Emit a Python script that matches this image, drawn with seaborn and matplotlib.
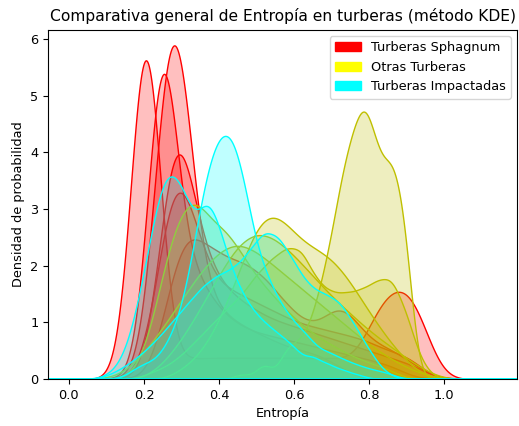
import numpy as np
import matplotlib
matplotlib.use("Agg")
import matplotlib.pyplot as plt
from matplotlib.patches import Patch
import seaborn as sns

# Entropy bin centres and relative frequencies for each peatland site

# --- Turberas Sphagnum ---
sph1_x = [0.205, 0.30, 0.34, 0.38, 0.42, 0.46, 0.50, 0.54, 0.58, 0.62, 0.66, 0.70, 0.74, 0.80, 0.84, 0.88, 0.92, 0.95]
sph1_w = [0.56, 0.015, 0.015, 0.015, 0.015, 0.015, 0.015, 0.015, 0.015, 0.015, 0.015, 0.015, 0.015, 0.04, 0.06, 0.07, 0.06, 0.025]

sph2_x = [0.25, 0.31, 0.35, 0.39, 0.43, 0.47, 0.51, 0.55, 0.59, 0.63, 0.67, 0.71, 0.75, 0.79, 0.83, 0.87]
sph2_w = [0.49, 0.09, 0.07, 0.05, 0.04, 0.035, 0.03, 0.03, 0.025, 0.025, 0.02, 0.02, 0.015, 0.015, 0.01, 0.01]

sph3_x = [0.25, 0.28, 0.31, 0.36, 0.40, 0.44, 0.48, 0.52, 0.56, 0.60, 0.64, 0.68, 0.72]
sph3_w = [0.23, 0.23, 0.23, 0.06, 0.05, 0.04, 0.035, 0.03, 0.025, 0.02, 0.02, 0.015, 0.01]

sph4_x = [0.26, 0.29, 0.33, 0.38, 0.43, 0.48, 0.53, 0.58, 0.63, 0.68, 0.73, 0.78, 0.83, 0.88, 0.93]
sph4_w = [0.12, 0.19, 0.13, 0.09, 0.07, 0.06, 0.05, 0.045, 0.04, 0.035, 0.03, 0.025, 0.02, 0.015, 0.01]

sph5_x = [0.24, 0.28, 0.32, 0.37, 0.43, 0.49, 0.55, 0.61, 0.67, 0.73, 0.79, 0.85, 0.91]
sph5_w = [0.06, 0.15, 0.12, 0.09, 0.08, 0.07, 0.06, 0.05, 0.045, 0.04, 0.035, 0.025, 0.02]

sph6_x = [0.27, 0.31, 0.35, 0.40, 0.46, 0.52, 0.58, 0.64, 0.70, 0.745, 0.80, 0.86, 0.92]
sph6_w = [0.045, 0.075, 0.065, 0.08, 0.08, 0.07, 0.05, 0.035, 0.04, 0.04, 0.025, 0.02, 0.01]

# --- Otras Turberas ---
otr1_x = [0.46, 0.52, 0.58, 0.61, 0.64, 0.67, 0.70, 0.73, 0.76, 0.79, 0.82, 0.85, 0.875, 0.90]
otr1_w = [0.004, 0.012, 0.02, 0.018, 0.027, 0.048, 0.075, 0.111, 0.132, 0.15, 0.12, 0.105, 0.09, 0.07]

otr2_x = [0.30, 0.34, 0.38, 0.42, 0.46, 0.50, 0.54, 0.58, 0.62, 0.66, 0.70, 0.74, 0.78, 0.82, 0.86, 0.90, 0.94]
otr2_w = [0.006, 0.014, 0.028, 0.05, 0.076, 0.104, 0.114, 0.106, 0.094, 0.088, 0.082, 0.07, 0.054, 0.038, 0.024, 0.012, 0.003]

otr3_x = [0.18, 0.22, 0.26, 0.30, 0.34, 0.38, 0.42, 0.46, 0.50, 0.54, 0.58, 0.62, 0.66, 0.70, 0.74, 0.78, 0.82, 0.86]
otr3_w = [0.004, 0.028, 0.072, 0.1, 0.108, 0.092, 0.088, 0.074, 0.06, 0.05, 0.04, 0.032, 0.025, 0.02, 0.015, 0.011, 0.008, 0.005]

otr4_x = [0.22, 0.26, 0.30, 0.34, 0.38, 0.42, 0.46, 0.50, 0.54, 0.58, 0.62, 0.66, 0.70, 0.74, 0.78, 0.82, 0.86, 0.90, 0.94]
otr4_w = [0.004, 0.008, 0.015, 0.025, 0.035, 0.045, 0.054, 0.068, 0.078, 0.086, 0.086, 0.064, 0.056, 0.056, 0.058, 0.064, 0.068, 0.044, 0.01]

otr5_x = [0.15, 0.20, 0.25, 0.30, 0.35, 0.40, 0.45, 0.50, 0.55, 0.60, 0.65, 0.70, 0.75, 0.80, 0.85, 0.90, 0.95]
otr5_w = [0.005, 0.02, 0.04, 0.0625, 0.085, 0.1025, 0.11, 0.1025, 0.09, 0.0775, 0.065, 0.0525, 0.04, 0.0275, 0.0175, 0.009, 0.003]

otr6_x = [0.25, 0.30, 0.35, 0.40, 0.45, 0.50, 0.55, 0.60, 0.65, 0.70, 0.75, 0.80, 0.85, 0.90, 0.95]
otr6_w = [0.01, 0.0275, 0.05, 0.075, 0.0975, 0.1075, 0.1025, 0.09, 0.075, 0.06, 0.0475, 0.035, 0.025, 0.015, 0.006]

# --- Turberas Impactadas ---
imp1_x = [0.17, 0.20, 0.23, 0.26, 0.29, 0.32, 0.35, 0.38, 0.41, 0.44, 0.47, 0.50, 0.53, 0.56, 0.59, 0.62, 0.65, 0.69, 0.73, 0.77, 0.81, 0.85]
imp1_w = [0.004, 0.008, 0.008, 0.016, 0.027, 0.048, 0.084, 0.111, 0.1225, 0.121, 0.096, 0.063, 0.05, 0.038, 0.03, 0.024, 0.02, 0.018, 0.013, 0.009, 0.006, 0.004]

imp2_x = [0.10, 0.13, 0.16, 0.19, 0.22, 0.25, 0.28, 0.31, 0.34, 0.37, 0.40, 0.43, 0.46, 0.49, 0.52, 0.55, 0.58, 0.61, 0.65, 0.69, 0.73, 0.77]
imp2_w = [0.0015, 0.006, 0.018, 0.042, 0.072, 0.1005, 0.105, 0.093, 0.078, 0.093, 0.078, 0.057, 0.0435, 0.0345, 0.0285, 0.024, 0.0195, 0.015, 0.0152, 0.01, 0.006, 0.0028]

imp3_x = [0.12, 0.16, 0.20, 0.24, 0.28, 0.32, 0.36, 0.40, 0.44, 0.48, 0.52, 0.56, 0.60, 0.64, 0.68, 0.72, 0.76, 0.80, 0.84]
imp3_w = [0.004, 0.01, 0.018, 0.028, 0.04, 0.052, 0.064, 0.0712, 0.0752, 0.086, 0.102, 0.098, 0.08, 0.0632, 0.058, 0.054, 0.038, 0.02, 0.0048]

# kernel bandwidth (in entropy units) used for each site
grupos = [
    ("red", [(sph1_x, sph1_w, 0.040), (sph2_x, sph2_w, 0.040), (sph3_x, sph3_w, 0.040),
             (sph4_x, sph4_w, 0.040), (sph5_x, sph5_w, 0.040), (sph6_x, sph6_w, 0.040)]),
    ("y", [(otr1_x, otr1_w, 0.022), (otr2_x, otr2_w, 0.030), (otr3_x, otr3_w, 0.030),
           (otr4_x, otr4_w, 0.025), (otr5_x, otr5_w, 0.035), (otr6_x, otr6_w, 0.035)]),
    ("cyan", [(imp1_x, imp1_w, 0.025), (imp2_x, imp2_w, 0.022), (imp3_x, imp3_w, 0.025)]),
]

etiquetas = ["Turberas Sphagnum", "Otras Turberas", "Turberas Impactadas"]
colores_leyenda = ["red", "yellow", "cyan"]

plt.rcParams["font.size"] = 9.3

fig = plt.figure(figsize=(5.19, 4.26), dpi=100)
ax = fig.add_axes([0.093, 0.110, 0.904, 0.820])

for color, sitios in grupos:
    for xs, ws, bw in sitios:
        xs = np.asarray(xs, dtype=float)
        ws = np.asarray(ws, dtype=float)
        sd = np.sqrt(np.cov(xs, aweights=ws))
        sns.kdeplot(x=xs, weights=ws, bw_method=bw / sd, fill=True, color=color,
                    alpha=0.25, linewidth=1.0, gridsize=800, cut=12, ax=ax)

handles = [Patch(color=c, label=l) for c, l in zip(colores_leyenda, etiquetas)]
ax.legend(handles=handles, loc="upper right")

ax.set_xlim(-0.055, 1.195)
ax.set_ylim(0, 6.16)
ax.set_title("Comparativa general de Entropía en turberas (método KDE)", fontsize=11.2)
ax.set_xlabel("Entropía")
ax.set_ylabel("Densidad de probabilidad")

fig.savefig("out.png", dpi=100)
